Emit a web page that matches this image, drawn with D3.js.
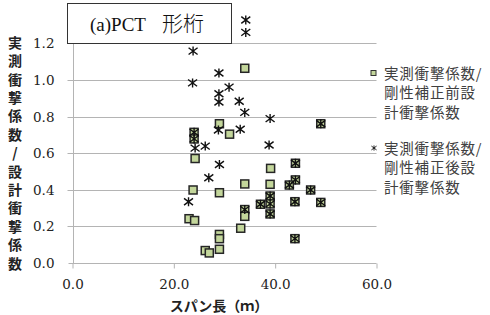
<!DOCTYPE html>
<html><head><meta charset="utf-8">
<script src="https://cdn.jsdelivr.net/npm/d3@7"></script>
<style>body{margin:0;background:#fff;}svg{display:block;}</style>
</head><body>
<script>
// Series 1: 実測衝撃係数/剛性補正前設計衝撃係数 (squares)
const spanBefore = [34.0,29.0,31.0,24.0,24.0,24.2,39.1,44.0,49.0,44.0,34.0,39.0,42.8,23.8,29.0,47.0,39.0,39.0,37.1,39.0,43.9,49.0,34.0,34.0,23.0,24.1,33.2,29.0,29.0,29.0,26.2,27.0,43.9];
const ratioBefore = [1.064,0.761,0.704,0.714,0.678,0.571,0.517,0.545,0.761,0.454,0.432,0.430,0.426,0.399,0.384,0.399,0.366,0.323,0.321,0.268,0.335,0.331,0.292,0.255,0.242,0.232,0.190,0.156,0.133,0.075,0.068,0.055,0.133];
// Series 2: 実測衝撃係数/剛性補正後設計衝撃係数 (stars)
const spanAfter = [34.2,34.2,23.8,28.9,23.7,30.9,28.9,28.9,32.9,34.0,39.0,49.0,28.8,33.1,24.0,24.0,24.2,26.2,38.8,29.0,44.0,26.9,44.0,42.8,47.0,22.9,39.0,39.0,37.1,39.0,43.9,49.0,34.0,43.9];
const ratioAfter = [1.328,1.260,1.158,1.038,0.984,0.961,0.925,0.880,0.884,0.823,0.789,0.761,0.727,0.731,0.714,0.678,0.628,0.639,0.645,0.538,0.545,0.466,0.454,0.426,0.399,0.335,0.366,0.323,0.321,0.268,0.335,0.331,0.292,0.133];
const xTicks = [0,20,40,60];
const yTicks = [0,0.2,0.4,0.6,0.8,1.0,1.2];
const titleLatin = "(a)PCT";
const titleJp = "形桁";
const yTitle = "実測衝撃係数/設計衝撃係数";
const xTitle = "スパン長（ｍ）";
const legend1 = ["実測衝撃係数/","剛性補正前設","計衝撃係数"];
const legend2 = ["実測衝撃係数/","剛性補正後設","計衝撃係数"];

const W=490,H=315;
const svg=d3.select("body").append("svg").attr("width",W).attr("height",H);
const x=d3.scaleLinear().domain([0,60]).range([72.5,376.5]);
const y=d3.scaleLinear().domain([0,1.2]).range([263,43.4]);
const serif='"DejaVu Serif","Liberation Serif",serif';
const jp='"Noto Sans CJK JP","Noto Sans",sans-serif';
const grid="#b4b4b4";

// gridlines
svg.append("g").selectAll("line").data(yTicks.filter(d=>d>0)).join("line")
 .attr("x1",x(0)-5).attr("x2",x(60)).attr("y1",d=>Math.round(y(d))+0.5).attr("y2",d=>Math.round(y(d))+0.5)
 .attr("stroke",grid).attr("stroke-width",1);
// y axis
const yAx=svg.append("g").attr("transform",`translate(${Math.round(x(0))+0.5},0)`)
 .call(d3.axisLeft(y).tickValues(yTicks).tickFormat(d3.format(".1f")).tickSize(5).tickPadding(14));
yAx.select(".domain").attr("stroke",grid).attr("d",`M0,${y(0)}V${y(1.2)}`);
yAx.selectAll(".tick line").attr("stroke",grid);
yAx.selectAll(".tick").attr("transform",d=>`translate(0,${Math.round(y(d))+0.5})`);
yAx.selectAll("text").attr("font-family",serif).attr("font-size",13.5).attr("fill","#222");
// x axis
const xAx=svg.append("g").attr("transform",`translate(0,${Math.round(y(0))+0.5})`)
 .call(d3.axisBottom(x).tickValues(xTicks).tickFormat(d3.format(".1f")).tickSize(5).tickPadding(11));
xAx.select(".domain").attr("stroke",grid).attr("d",`M${x(0)},0H${x(60)}`);
xAx.selectAll(".tick line").attr("stroke",grid);
xAx.selectAll("text").attr("font-family",serif).attr("font-size",13.5).attr("fill","#222");

// squares
const sq=8;
svg.append("g").selectAll("rect").data(d3.range(spanBefore.length)).join("rect")
 .attr("x",i=>x(spanBefore[i])-sq/2).attr("y",i=>y(ratioBefore[i])-sq/2)
 .attr("width",sq).attr("height",sq).attr("fill","#c3d69b").attr("stroke","#262626").attr("stroke-width",1.5);
// stars
function star(g,cx,cy,r,sw){
  g.append("path").attr("d",`M${cx-r},${cy-r*0.75}L${cx+r},${cy+r*0.75}M${cx-r},${cy+r*0.75}L${cx+r},${cy-r*0.75}M${cx},${cy-r}V${cy+r}`)
   .attr("stroke","#111").attr("stroke-width",sw).attr("fill","none");
}
const sg=svg.append("g");
d3.range(spanAfter.length).forEach(i=>star(sg,x(spanAfter[i]),y(ratioAfter[i]),4.5,1.4));

// title box
svg.append("rect").attr("x",67.5).attr("y",3.5).attr("width",164).attr("height",40)
 .attr("fill","#fff").attr("stroke","#333").attr("stroke-width",1);
const tt=svg.append("text").attr("y",31).attr("fill","#111");
tt.append("tspan").attr("x",90).attr("font-family",`"Liberation Serif",serif`).attr("font-size",19).text(titleLatin);
tt.append("tspan").attr("x",162).attr("font-family",jp).attr("font-size",21).attr("font-weight",300).text(titleJp);

// y title
svg.append("g").selectAll("text").data(Array.from(yTitle)).join("text")
 .attr("x",15).attr("y",(d,i)=>41.7+i*18.42).attr("dominant-baseline","central").attr("text-anchor","middle")
 .attr("font-family",jp).attr("font-weight","bold").attr("font-size",14).attr("fill","#222").text(d=>d);
// x title
svg.append("text").attr("x",219).attr("y",305).attr("dominant-baseline","central").attr("text-anchor","middle")
 .attr("font-family",jp).attr("font-weight","bold").attr("font-size",14).attr("fill","#222").text(xTitle);

// legend
svg.append("rect").attr("x",371).attr("y",70.5).attr("width",5).attr("height",5)
 .attr("fill","#c3d69b").attr("stroke","#333").attr("stroke-width",1);
star(svg,374,148,2.6,0.9);
const lg=svg.append("g").attr("font-family",jp).attr("font-size",14.5).attr("fill","#404040").attr("letter-spacing",0.8);
legend1.forEach((t,i)=>lg.append("text").attr("x",384).attr("y",72+i*19.6).attr("dominant-baseline","central").text(t));
legend2.forEach((t,i)=>lg.append("text").attr("x",384).attr("y",147+i*19.6).attr("dominant-baseline","central").text(t));
</script>
</body></html>
